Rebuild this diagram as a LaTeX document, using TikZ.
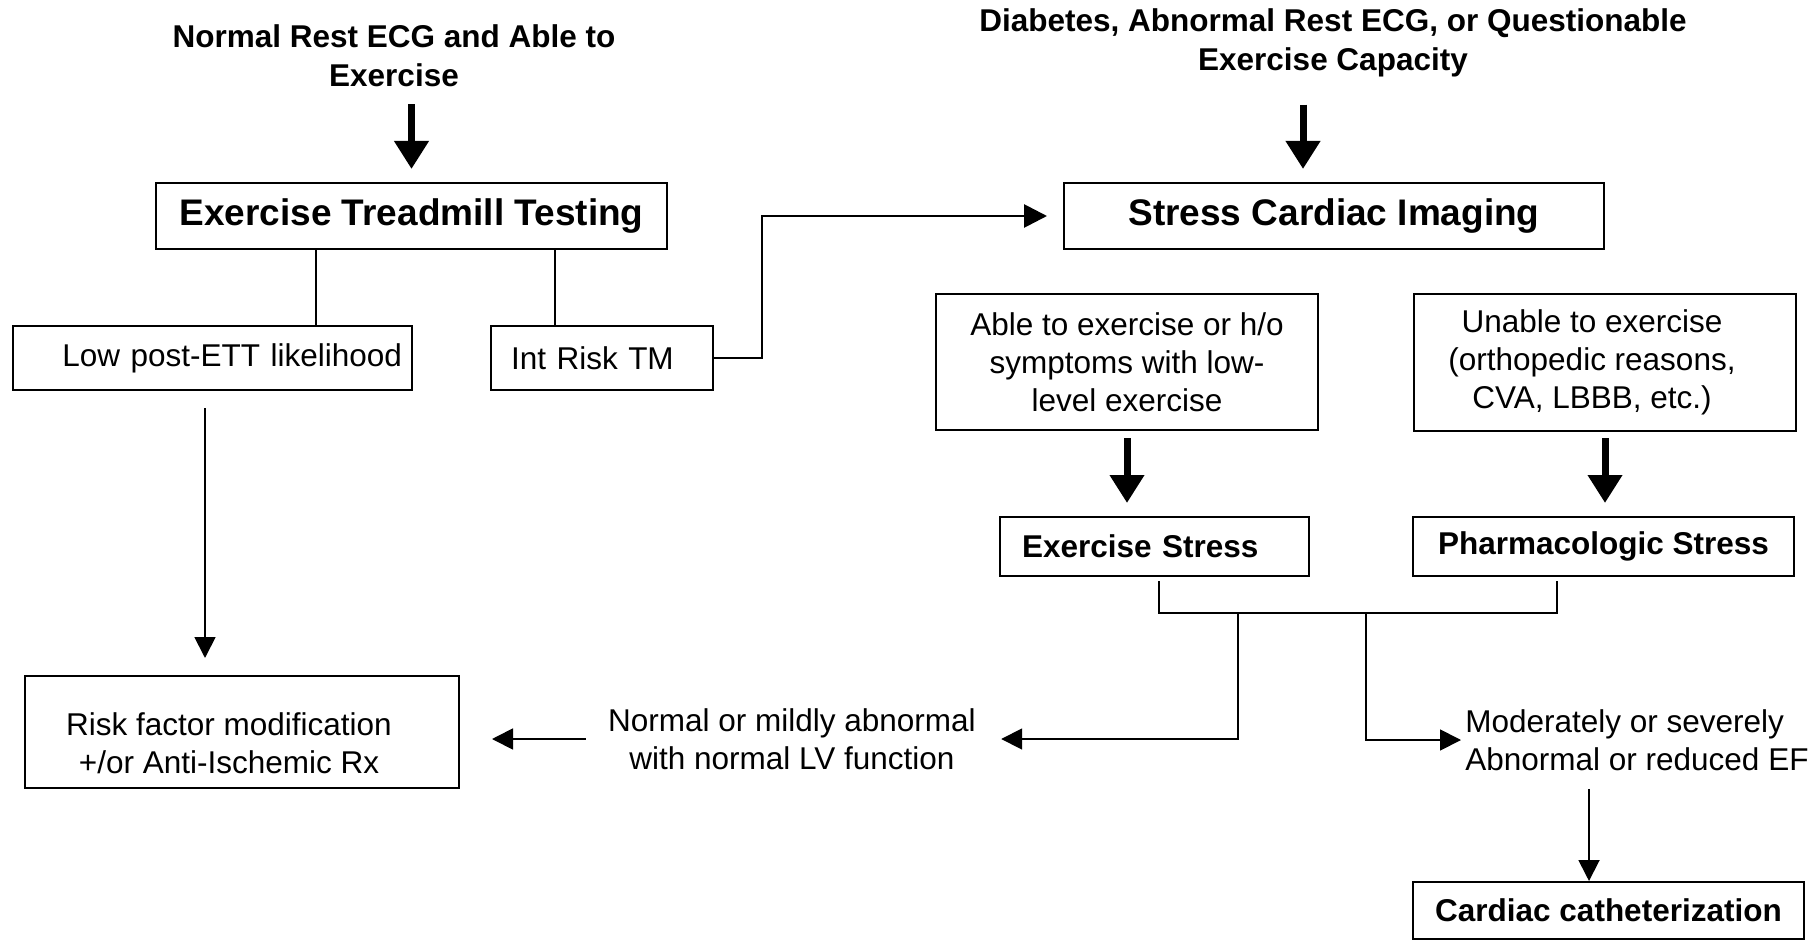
\documentclass[tikz,border=0pt]{standalone}
\usepackage{fontspec}
\setmainfont{Liberation Sans}
\usetikzlibrary{arrows.meta}

\begin{document}
\begin{tikzpicture}[x=0.5pt, y=-0.5pt,
    font=\fontsize{15.75}{19}\selectfont,
    box/.style={draw, line width=1pt},
    headtext/.style={font=\fontsize{15.75}{19.5}\selectfont\bfseries, align=center, inner sep=0pt},
    bigbold/.style={font=\fontsize{18.5}{22}\selectfont\bfseries},
    bold/.style={font=\fontsize{15.75}{19}\selectfont\bfseries},
    link/.style={line width=0.8pt},
    bigarrow/.style={line width=3.5pt, -{Triangle[width=16.5pt,length=14pt]}},
    midarrow/.style={line width=1.4pt, -{Triangle[width=11.5pt,length=11.5pt]}},
    thinarrow/.style={line width=0.9pt, -{Triangle[width=10.5pt,length=10.5pt]}}]
    \useasboundingbox (0,0) rectangle (1819,941);

    % Starting conditions
    \node[headtext] (ecg) at (394,56) {Normal Rest ECG and Able to\\Exercise};
    \node[headtext] (diab) at (1333,43) {Diabetes, Abnormal Rest ECG, or Questionable\\Exercise Capacity};

    % The two tests
    \node[box, bigbold, minimum width=255.5pt, minimum height=33pt] (ett) at (411.5,216) {Exercise Treadmill Testing};
    \node[box, bigbold, minimum width=270pt, minimum height=33pt] (sci) at (1334,216) {Stress Cardiac Imaging};

    % Treadmill results
    \node[box, text width=189.5pt, inner xsep=5pt, align=right, minimum height=32pt] (low) at (212.5,358) {Low post-ETT likelihood};
    \node[box, text width=91pt, inner xsep=10pt, align=left, minimum height=32pt] (int) at (602,358) {Int Risk TM};

    % Imaging choices
    \node[box, align=center, minimum width=191pt, minimum height=68pt] (able) at (1127,362) {Able to exercise or h/o\\symptoms with low-\\level exercise};
    \node[box, minimum width=191pt, minimum height=68.5pt] (unable) at (1605,362.5) {};
    \node[align=center] (unabletext) at ([xshift=-6.5pt]unable.center) {Unable to exercise\\(orthopedic reasons,\\CVA, LBBB, etc.)};
    \node[box, bold, text width=132.5pt, inner xsep=11pt, align=left, minimum height=29.5pt] (exst) at (1154.5,546.5) {Exercise Stress};
    \node[box, bold, minimum width=190.5pt, minimum height=29.5pt] (pharm) at (1603.5,546.5) {Pharmacologic Stress};

    % Outcomes
    \node[box, minimum width=217pt, minimum height=56pt] (risk) at (242,732) {};
    \node[align=center] (risktext) at ([xshift=-6.5pt, yshift=-5.5pt]risk.center) {Risk factor modification\\+/or Anti-Ischemic Rx};
    \node[align=center, inner sep=0pt] (normal) at (792,739) {Normal or mildly abnormal\\with normal LV function};
    \node[align=left, inner sep=0pt, anchor=west] (mod) at (1465,740) {Moderately or severely\\Abnormal or reduced EF};
    \node[box, bold, minimum width=195.5pt, minimum height=28.5pt] (cath) at (1608.5,910.5) {Cardiac catheterization};

    % Arrows into the tests
    \draw[bigarrow, shorten <=8.5pt, shorten >=6.5pt] (ecg.south -| ett.north) -- (ett.north);
    \coordinate (diabdrop) at ([xshift=-15.5pt]sci.north);
    \draw[bigarrow, shorten <=13.5pt, shorten >=6.5pt] (diabdrop |- diab.south) -- (diabdrop);

    % Treadmill branches
    \coordinate (ettl) at ([xshift=-47.75pt]ett.south);
    \coordinate (ettr) at ([xshift=71.75pt]ett.south);
    \draw[link] (ettl) -- (ettl |- low.north);
    \draw[link] (ettr) -- (ettr |- int.north);
    \coordinate (lowdrop) at ([xshift=-3.75pt]low.south);
    \draw[thinarrow, shorten <=8.5pt, shorten >=8.5pt] (lowdrop) -- (lowdrop |- risk.north);
    \draw[midarrow, shorten >=8pt] (int.east) -- ++(48,0) |- (sci.west);

    % Stress type
    \draw[bigarrow, shorten <=3.5pt, shorten >=6.5pt] (able.south) -- (able.south |- exst.north);
    \draw[bigarrow, shorten <=3pt, shorten >=6.5pt] (unable.south) -- (unable.south |- pharm.north);

    % Joining and splitting of the results
    \coordinate (exdrop) at ([xshift=2.25pt]exst.south);
    \coordinate (phdrop) at ([xshift=-23.25pt]pharm.south);
    \draw[link, shorten <=2pt, shorten >=2pt] (exdrop) -- ++(0,36) -| (phdrop);
    \coordinate (splitl) at (1238,612);
    \coordinate (splitr) at (1366,612);
    \draw[thinarrow, shorten >=12.5pt] (splitl) |- (normal.east);
    \draw[thinarrow, shorten <=11pt, shorten >=16pt] (normal.west) -- (normal.west -| risk.east);
    \draw[thinarrow, shorten >=2pt] (splitr) |- (mod.west);
    \coordinate (cathin) at ([xshift=-9.75pt]cath.north);
    \draw[thinarrow, shorten <=9pt] (cathin |- mod.south) -- (cathin);
\end{tikzpicture}
\end{document}
